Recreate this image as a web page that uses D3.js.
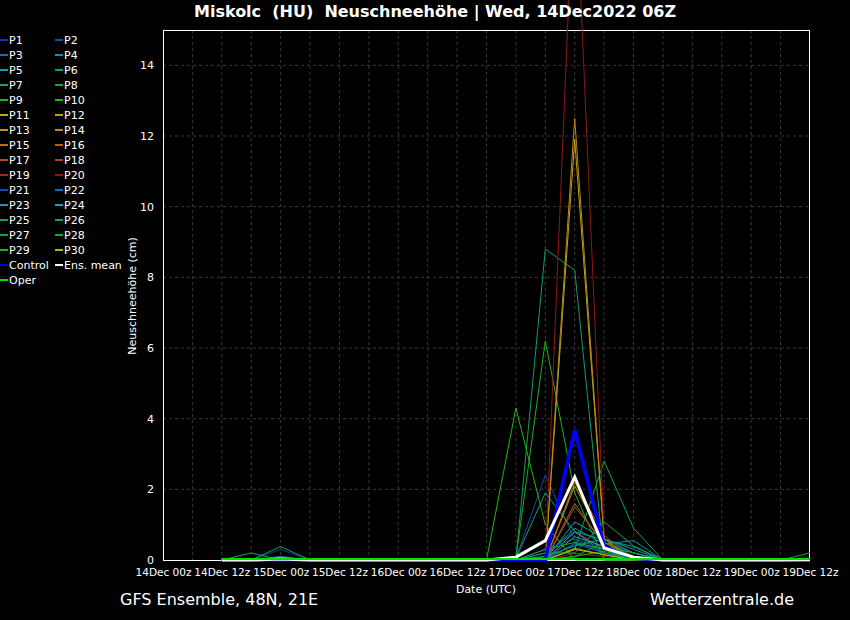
<!DOCTYPE html>
<html>
<head>
<meta charset="utf-8">
<script src="https://cdn.jsdelivr.net/npm/d3@7/dist/d3.min.js"></script>
<style>
html,body{margin:0;padding:0;background:#000;}
svg{display:block;}
text{font-family:"DejaVu Sans",sans-serif;fill:#fff;}
</style>
</head>
<body>
<svg id="chart" width="850" height="620"></svg>
<script>
// ---- data ----
const hours = [12,18,24,30,36,42,48,54,60,66,72,78,84,90,96,102,108,114,120,126,132];
const xTickHours = [0,12,24,36,48,60,72,84,96,108,120,132];
const xTickLabels = ["14Dec 00z","14Dec 12z","15Dec 00z","15Dec 12z","16Dec 00z","16Dec 12z","17Dec 00z","17Dec 12z","18Dec 00z","18Dec 12z","19Dec 00z","19Dec 12z"];
const yTicks = [0,2,4,6,8,10,12,14];
const memberNames = ["P1","P2","P3","P4","P5","P6","P7","P8","P9","P10","P11","P12","P13","P14","P15","P16","P17","P18","P19","P20","P21","P22","P23","P24","P25","P26","P27","P28","P29","P30"];
const memberValues = [
  [0,0,0.3,0,0,0,0,0,0,0,0,0,0.45,0.3,0.1,0,0,0,0,0,0],
  [0,0,0,0,0,0,0,0,0,0,0.05,2.4,0.57,0.2,0.05,0,0,0,0,0,0],
  [0,0,0,0,0,0,0,0,0,0,0,0.2,0.8,0.3,0.1,0,0,0,0,0,0],
  [0,0,0,0,0,0,0,0,0,0,0,0.1,0.9,0.45,0.55,0,0,0,0,0,0],
  [0,0,0.08,0,0,0,0,0,0,0,0,0,1.08,0.6,0.2,0,0,0,0,0,0],
  [0,0,0,0,0,0,0,0,0,0,0.05,1.9,0.8,0.2,0,0,0,0,0,0,0],
  [0,0.2,0,0,0,0,0,0,0,0,0,8.8,8.2,0,0,0,0,0,0,0,0.2],
  [0,0,0.38,0,0,0,0,0,0,0,0,0,0.3,2.8,0.9,0,0,0,0,0,0],
  [0,0,0,0,0,0,0,0,0,0,0.05,6.2,1.9,0,0,0,0,0,0,0,0],
  [0,0,0,0,0,0,0,0,0,0,4.3,1.0,0,0,0,0,0,0,0,0,0],
  [0,0,0,0,0,0,0,0,0,0,0,0,0.33,0.15,0,0,0,0,0,0,0],
  [0,0,0,0,0,0,0,0,0,0,0,0,11.9,0.6,0,0,0,0,0,0,0],
  [0,0,0,0,0,0,0,0,0,0,0,0,2.1,0.5,0.1,0,0,0,0,0,0],
  [0,0,0,0,0,0,0,0,0,0,0,0,12.5,0.6,0,0,0,0,0,0,0],
  [0,0,0,0,0,0,0,0,0,0,0,0,2.2,0.7,0,0,0,0,0,0,0],
  [0,0,0,0,0,0,0,0,0,0,0,0,1.6,0.4,0,0,0,0,0,0,0],
  [0,0,0,0,0,0,0,0,0,0,0,0,1.5,0.5,0,0,0,0,0,0,0],
  [0,0,0,0,0,0,0,0,0,0,0,0,0.8,0.3,0,0,0,0,0,0,0],
  [0,0,0,0,0,0,0,0,0,0,0,0,0.19,0.1,0,0,0,0,0,0,0],
  [0,0,0,0,0,0,0,0,0,0,0,0,19.9,0.7,0,0,0,0,0,0,0],
  [0,0,0,0,0,0,0,0,0,0,0,0.3,0.6,0.3,0,0,0,0,0,0,0],
  [0,0,0.1,0,0,0,0,0,0,0,0,0,0.47,0.2,0,0,0,0,0,0,0],
  [0,0,0,0,0,0,0,0,0,0,0,0,0.8,0.57,0.38,0,0,0,0,0,0],
  [0,0,0,0,0,0,0,0,0,0,0,0,0.66,0.38,0.2,0,0,0,0,0,0],
  [0,0,0,0,0,0,0,0,0,0,0,0.1,0.4,0.6,0.3,0,0,0,0,0,0],
  [0,0,0,0,0,0,0,0,0,0,0,0.2,0.2,1.08,0.4,0,0,0,0,0,0],
  [0,0,0,0,0,0,0,0,0,0,0,0,0.1,0.5,0.2,0,0,0,0,0,0],
  [0,0,0,0,0,0,0,0,0,0,0,0.3,0.5,0.3,0,0,0,0,0,0,0],
  [0,0,0,0,0,0,0,0,0,0,0,0,0.1,0.25,0,0,0,0,0,0,0],
  [0,0,0,0,0,0,0,0,0,0,0,0,0.3,0.15,0,0,0,0,0,0,0]
];
const controlValues = [0,0,0,0,0,0,0,0,0,0,0,0,3.68,0.37,0.05,0,0,0,0,0,0];
const meanValues    = [0,0,0.03,0,0,0,0,0,0,0,0.08,0.55,2.35,0.34,0.08,0,0,0,0,0,0.01];
const operValues    = [0,0,0,0,0,0,0,0,0,0,0,0,0,0,0,0,0,0,0,0,0];

// ---- styles ----
const memberColors = ["#2030b0","#1848b0","#1070b0","#1090b8","#10a0a8","#10a080","#10a060","#10a840","#20b020","#20b810",
  "#b0b010","#b8a810","#c09010","#c08810","#c07010","#b86010","#b05010","#b04020","#a02818","#901818",
  "#1848b0","#1070b8","#1098b8","#10a8b0","#10a080","#10a060","#10a040","#10b030","#10b810","#b8b010"];

const svg = d3.select("#chart");
svg.append("rect").attr("width",850).attr("height",620).attr("fill","#000");

const x = d3.scaleLinear().domain([0,132]).range([163,810]);
const y = d3.scaleLinear().domain([0,15]).range([560,30]);

// grid
const g = svg.append("g");
g.selectAll("line.vg").data(d3.range(6,132,6)).join("line")
  .attr("x1",d=>x(d)).attr("x2",d=>x(d)).attr("y1",30).attr("y2",560)
  .attr("stroke","#3a3a3a").attr("stroke-dasharray","3,3").attr("stroke-width",1);
g.selectAll("line.hg").data(yTicks.slice(1)).join("line")
  .attr("x1",163).attr("x2",810).attr("y1",d=>y(d)).attr("y2",d=>y(d))
  .attr("stroke","#3a3a3a").attr("stroke-dasharray","3,3").attr("stroke-width",1);

// frame
svg.append("rect").attr("x",163.5).attr("y",30.5).attr("width",646).attr("height",530)
  .attr("fill","none").attr("stroke","#fff").attr("stroke-width",1);

// axes tick labels
const xAxis = d3.axisBottom(x).tickValues(xTickHours).tickFormat((d,i)=>xTickLabels[i]).tickSize(0).tickPadding(9);
const xa = svg.append("g").attr("transform","translate(0,560)").call(xAxis);
xa.select(".domain").remove();
xa.selectAll("text").attr("font-size",10.5).attr("font-family","'DejaVu Sans Condensed','DejaVu Sans'")
  .attr("font-stretch","condensed").attr("fill","#fff")
  .attr("textLength",56).attr("lengthAdjust","spacingAndGlyphs");

const yAxis = d3.axisLeft(y).tickValues(yTicks).tickSize(0).tickPadding(9);
const ya = svg.append("g").attr("transform","translate(163,0)").call(yAxis);
ya.select(".domain").remove();
ya.selectAll("text").attr("font-size",11).attr("font-family","'DejaVu Sans Condensed','DejaVu Sans'").attr("fill","#fff");

// lines
const line = d3.line().x((d,i)=>x(hours[i])).y(d=>y(d));
const lg = svg.append("g").attr("fill","none");
memberValues.forEach((vals,k)=>{
  lg.append("path").attr("d",line(vals)).attr("stroke",memberColors[k]).attr("stroke-width",1);
});
lg.append("path").attr("d",line(controlValues)).attr("stroke","#0000ff").attr("stroke-width",3.5);
lg.append("path").attr("d",line(meanValues)).attr("stroke","#ffffff").attr("stroke-width",3);
lg.append("path").attr("d",line(operValues)).attr("stroke","#00e000").attr("stroke-width",2).attr("transform","translate(0,-1)");

// titles
svg.append("text").attr("x",435).attr("y",17).attr("text-anchor","middle")
  .attr("font-size",16).attr("font-weight","bold").text("Miskolc  (HU)  Neuschneehöhe | Wed, 14Dec2022 06Z")
  .style("white-space","pre");
svg.append("text").attr("transform","translate(136,296) rotate(-90)").attr("text-anchor","middle")
  .attr("font-size",11).text("Neuschneehöhe (cm)");
svg.append("text").attr("x",486).attr("y",593).attr("text-anchor","middle").attr("font-size",11)
  .attr("font-family","'DejaVu Sans Condensed','DejaVu Sans'").text("Date (UTC)");
svg.append("text").attr("x",120).attr("y",605).attr("font-size",16).text("GFS Ensemble, 48N, 21E");
svg.append("text").attr("x",794).attr("y",605).attr("text-anchor","end").attr("font-size",16).text("Wetterzentrale.de");

// legend
const legendItems = memberNames.map((n,k)=>({name:n,color:memberColors[k],w:2}))
  .concat([{name:"Control",color:"#0000ff",w:2},{name:"Ens. mean",color:"#ffffff",w:2},{name:"Oper",color:"#00e000",w:2}]);
const leg = svg.append("g");
legendItems.forEach((it,k)=>{
  const col = k%2, row = Math.floor(k/2);
  const lx = col===0 ? 0 : 55;
  const ly = 40 + row*15;
  leg.append("line").attr("x1",lx).attr("x2",lx+8).attr("y1",ly).attr("y2",ly)
    .attr("stroke",it.color).attr("stroke-width",it.w);
  leg.append("text").attr("x",lx+9).attr("y",ly+4).attr("font-size",11).text(it.name);
});
</script>
</body>
</html>
